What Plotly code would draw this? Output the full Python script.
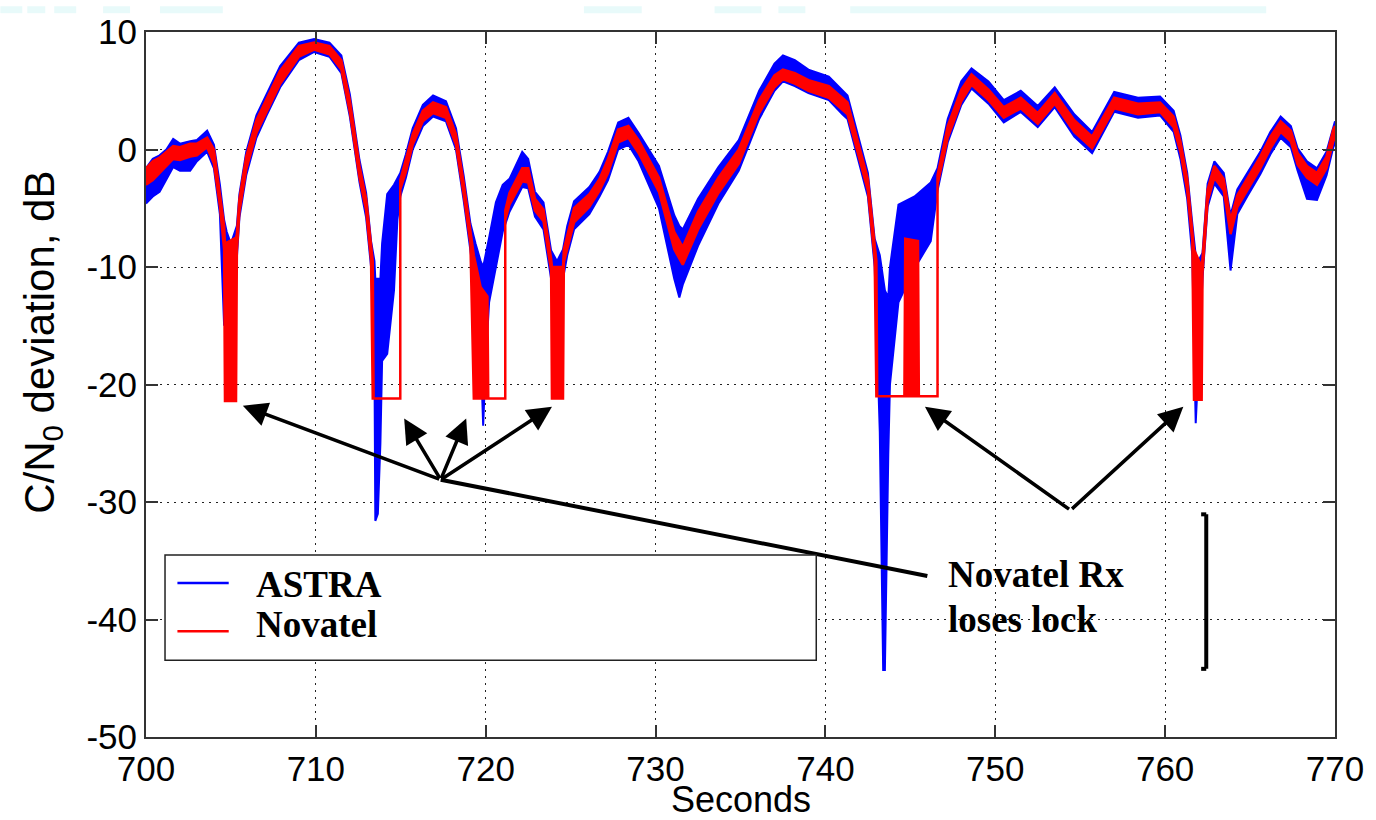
import plotly.graph_objects as go

# ---------------- data ----------------
astra_t = [700.0, 700.4, 700.8, 701.2, 701.6, 702.0, 702.6, 703.0, 703.6, 704.0,
           704.35, 704.6, 704.75, 705.0, 705.35, 705.5, 705.9, 706.5, 707.1, 707.9,
           709.0, 709.9, 710.8, 711.5, 712.0, 712.57, 712.96, 713.25, 713.45, 713.5,
           713.65, 713.8, 713.9, 714.2, 714.6, 714.8, 714.97, 715.3, 715.7, 716.3,
           716.9, 717.66, 718.25, 718.7, 719.1, 719.4, 719.7, 719.85, 720.0, 720.2,
           720.6, 721.0, 721.4, 722.15, 722.5, 722.9, 723.4, 723.85, 724.2, 724.55,
           724.8, 725.2, 726.1, 726.7, 727.2, 727.8, 728.4, 729.0, 730.2, 731.1,
           731.4, 731.6, 732.5, 733.7, 734.9, 736.1, 737.0, 737.5, 738.2, 739.0,
           740.2, 741.0, 741.3, 742.5, 742.9, 743.2, 743.4, 743.5, 743.7, 743.8,
           744.3, 745.25, 746.2, 746.6, 747.2, 748.0, 748.6, 749.6, 750.5, 751.5,
           752.5, 753.5, 754.65, 755.7, 757.0, 758.4, 759.7, 760.5, 760.9, 761.3,
           761.6, 761.8, 761.95, 762.2, 762.5, 762.9, 763.45, 763.85, 764.25, 764.83,
           765.6, 766.2, 766.8, 767.4, 767.8, 768.35, 768.94, 769.5, 769.9, 770.0]
astra_lo = [-4.6, -4.0, -3.6, -2.6, -1.5, -1.8, -1.8, -1.0, -0.2, -1.6,
            -5.5, -15.0, -12.0, -11.0, -9.2, -5.8, -2.2, 1.0, 2.9, 5.3,
            7.6, 8.3, 7.9, 6.5, 2.8, -2.8, -5.8, -10.0, -18.0, -31.6,
            -31.0, -25.0, -18.0, -17.4, -12.0, -6.0, -4.0, -2.4, 0.0, 2.0,
            2.8, 2.4, 0.0, -4.3, -8.6, -12.0, -17.0, -23.5, -18.0, -13.0,
            -10.0, -7.0, -5.3, -3.2, -3.3, -5.7, -6.8, -11.0, -13.0, -11.0,
            -9.0, -6.8, -5.5, -4.0, -2.6, 0.0, 0.4, -1.0, -5.0, -11.0,
            -12.6, -11.5, -8.2, -4.6, -1.8, 2.6, 5.0, 5.8, 5.4, 4.8,
            4.2, 3.0, 2.6, -4.0, -10.0, -24.0, -44.3, -44.3, -26.0, -20.0,
            -13.0, -10.1, -7.8, -3.5, 0.6, 3.8, 5.2, 3.9, 2.3, 3.2,
            1.9, 3.6, 1.1, -0.3, 3.2, 2.7, 2.9, 1.5, -0.8, -4.2,
            -9.0, -23.3, -18.0, -11.0, -4.9, -2.9, -4.0, -10.3, -5.5, -4.0,
            -2.1, -0.4, 1.0, 0.2, -1.8, -4.2, -4.3, -2.2, 0.2, 0.5]
astra_hi = [-1.6, -0.8, -0.5, 0.0, 0.9, 0.5, 0.7, 0.8, 1.6, 0.4,
            -3.0, -6.0, -7.0, -8.0, -6.5, -3.8, -0.2, 2.9, 4.7, 7.1,
            9.1, 9.4, 9.1, 8.0, 4.7, -0.9, -3.7, -7.8, -9.5, -11.0,
            -11.0, -11.0, -8.0, -3.8, -3.0, -2.5, -2.0, -0.4, 1.8, 3.8,
            4.6, 4.1, 1.8, -2.2, -6.3, -8.0, -9.5, -10.0, -9.0, -7.5,
            -4.5, -3.0, -2.5, -0.2, -0.8, -3.6, -4.5, -8.6, -9.5, -8.5,
            -6.5, -4.4, -3.2, -1.9, -0.2, 2.3, 2.7, 1.4, -1.4, -5.6,
            -6.5, -6.8, -4.2, -1.5, 0.8, 5.0, 7.3, 8.0, 7.6, 6.8,
            6.2, 5.0, 4.6, -2.0, -7.6, -9.0, -11.0, -12.0, -12.6, -10.0,
            -4.7, -4.0, -2.8, -1.6, 2.6, 5.8, 6.9, 5.8, 4.2, 5.0,
            3.7, 5.3, 3.0, 1.5, 4.9, 4.4, 4.5, 3.3, 1.2, -2.0,
            -6.3, -9.0, -9.5, -8.8, -2.9, -1.0, -2.0, -5.6, -3.4, -2.0,
            -0.2, 1.5, 2.8, 2.0, 0.1, -1.0, -1.6, -0.2, 2.0, 2.4]

nov_t = [700.0, 700.4, 700.8, 701.2, 701.6, 702.0, 702.6, 703.0, 703.6, 704.0,
         704.35, 704.6, 704.65, 705.3, 705.35, 705.5, 705.9, 706.5, 707.1, 707.9,
         709.0, 709.9, 710.8, 711.5, 712.0, 712.57, 712.96, 713.25, 713.35, 713.4,
         714.97, 714.97, 715.3, 715.7, 716.3, 716.9, 717.66, 718.25, 718.7, 719.1,
         719.3, 719.7, 720.1, 720.15, 721.15, 721.15, 721.4, 722.15, 722.5, 722.9,
         723.4, 723.85, 723.9, 724.55, 724.6, 725.2, 726.1, 726.7, 727.2, 727.8,
         728.4, 729.0, 730.2, 731.1, 731.6, 732.5, 733.7, 734.9, 736.1, 737.0,
         737.5, 738.2, 739.0, 740.2, 741.0, 741.3, 742.5, 742.9, 743.0, 743.05,
         744.65, 744.7, 745.45, 745.5, 746.6, 746.6, 747.2, 748.0, 748.6, 749.6,
         750.5, 751.5, 752.5, 753.5, 754.65, 755.7, 757.0, 758.4, 759.7, 760.5,
         760.9, 761.3, 761.6, 761.7, 762.15, 762.2, 762.5, 762.9, 763.45, 763.85,
         764.25, 764.83, 765.6, 766.2, 766.8, 767.4, 767.8, 768.35, 768.94, 769.5,
         769.9, 770.0]
nov_lo = [-3.0, -2.6, -2.0, -1.4, -0.8, -0.9, -0.6, -0.5, 0.2, -1.2,
          -4.8, -8.5, -21.4, -21.4, -8.6, -5.3, -1.7, 1.4, 3.2, 5.6,
          7.9, 8.5, 8.1, 6.8, 3.2, -2.4, -5.2, -9.4, -21.2, -21.2,
          -21.2, -3.4, -1.9, 0.4, 2.4, 3.1, 2.7, 0.4, -3.8, -8.0,
          -21.2, -21.2, -21.2, -21.2, -21.2, -6.0, -4.7, -2.7, -2.8, -5.2,
          -6.1, -10.3, -21.2, -21.2, -9.6, -6.2, -4.9, -3.5, -2.0, 0.6,
          1.0, -0.3, -3.6, -8.5, -9.8, -6.8, -3.7, -1.2, 3.1, 5.3,
          6.0, 5.6, 5.0, 4.4, 3.4, 3.0, -3.5, -9.3, -21.0, -21.0,
          -21.0, -21.0, -21.0, -21.0, -21.0, -3.0, 1.0, 4.1, 5.5, 4.2,
          2.7, 3.5, 2.2, 3.9, 1.5, 0.1, 3.5, 3.0, 3.2, 1.9,
          -0.2, -3.5, -7.8, -21.3, -21.3, -10.5, -4.4, -2.4, -3.5, -7.2,
          -4.9, -3.5, -1.6, 0.1, 1.5, 0.7, -1.3, -2.4, -3.0, -1.6,
          0.7, 1.0]
nov_hi = [-1.6, -1.0, -0.7, -0.2, 0.3, 0.2, 0.5, 0.5, 1.0, 0.0,
          -3.6, -6.5, -8.0, -7.5, -7.2, -4.2, -0.6, 2.5, 4.3, 6.7,
          8.8, 9.1, 8.8, 7.6, 4.2, -1.4, -4.2, -8.4, -9.5, -21.2,
          -21.2, -2.6, -0.9, 1.3, 3.3, 4.0, 3.6, 1.3, -2.8, -7.0,
          -9.0, -11.7, -12.5, -21.2, -21.2, -5.2, -3.7, -1.6, -1.6, -4.2,
          -5.1, -9.3, -10.0, -10.0, -8.5, -5.0, -3.8, -2.5, -0.8, 1.7,
          2.0, 0.8, -2.4, -7.0, -8.3, -5.3, -2.4, 0.0, 4.2, 6.3,
          6.8, 6.5, 5.9, 5.4, 4.4, 4.0, -2.5, -8.2, -9.5, -21.0,
          -21.0, -7.6, -7.8, -21.0, -21.0, -2.2, 2.0, 5.1, 6.4, 5.1,
          3.6, 4.4, 3.1, 4.8, 2.5, 1.1, 4.4, 3.9, 4.0, 2.8,
          0.7, -2.5, -6.8, -8.5, -10.0, -9.3, -3.4, -1.4, -2.5, -6.0,
          -3.9, -2.5, -0.6, 1.1, 2.4, 1.6, -0.3, -1.4, -2.0, -0.6,
          1.7, 2.0]

x_ticks = [700, 710, 720, 730, 740, 750, 760, 770]
x_tick_text = ["700", "710", "720", "730", "740", "750", "760", "770"]
y_ticks = [-50, -40, -30, -20, -10, 0, 10]
y_tick_text = ["-50", "-40", "-30", "-20", "-10", "0", "10"]
series_names = ["ASTRA", "Novatel"]
series_colors = ["#0000ff", "#ff0000"]
note_lines = ["Novatel Rx", "loses lock"]

# ---------------- figure ----------------
fig = go.Figure()


def band(t, lo, hi, color, name, width):
    xs = list(t) + list(t)[::-1]
    ys = list(hi) + list(lo)[::-1]
    fig.add_trace(go.Scatter(x=xs, y=ys, mode="lines", fill="toself",
                             fillcolor=color, line=dict(color=color, width=width),
                             name=name, showlegend=False, hoverinfo="skip"))


band(astra_t, astra_lo, astra_hi, series_colors[0], series_names[0], 2)
band(nov_t, nov_lo, nov_hi, series_colors[1], series_names[1], 2.5)

axis_common = dict(
    showgrid=True, gridcolor="#222222", gridwidth=1, griddash="2px,5px",
    showline=True, linecolor="#333333", linewidth=2, mirror="ticks",
    ticks="inside", ticklen=12, tickwidth=1.5, tickcolor="#333333",
    tickfont=dict(family="Liberation Sans, Arial", size=35, color="black"),
    zeroline=False,
)
fig.update_xaxes(range=[700, 770], tickvals=x_ticks, ticktext=x_tick_text, **axis_common)
fig.update_yaxes(range=[-50, 10], tickvals=y_ticks, ticktext=y_tick_text, **axis_common)

serif = dict(family="Liberation Serif, Times New Roman", size=37, color="black")
sans_x = dict(family="Liberation Sans, Arial", size=36, color="black")
sans_y = dict(family="Liberation Sans, Arial", size=42, color="black")

ann = []
# axis titles
ann.append(dict(text="Seconds", xref="paper", yref="paper", x=0.5, y=-0.089,
                showarrow=False, font=sans_x, xanchor="center", yanchor="middle",
                borderpad=0))
ann.append(dict(text="C/N<sub>0</sub> deviation, dB", xref="paper", yref="paper",
                x=-0.087, y=0.56, textangle=-90, showarrow=False, font=sans_y,
                xanchor="center", yanchor="middle"))

# arrows (tip, tail) in data units
hub1 = (717.35, -28.1)
hub2 = (754.43, -30.7)
tips1 = [(705.7, -21.8), (715.2, -22.9), (718.85, -22.9), (723.9, -21.9)]
tips2 = [(745.86, -21.9), (761.07, -21.9)]
for tip in tips1 + tips2:
    hub = hub1 if tip in tips1 else hub2
    ann.append(dict(x=tip[0], y=tip[1], ax=hub[0], ay=hub[1], xref="x", yref="y",
                    axref="x", ayref="y", text="", showarrow=True, arrowhead=2,
                    arrowsize=1.4, arrowwidth=3.5, arrowcolor="black", standoff=0))

# note text
ann.append(dict(text="<b>%s</b>" % note_lines[0], x=747.1, y=-36.2, xref="x", yref="y",
                showarrow=False, font=serif, xanchor="left", yanchor="middle"))
ann.append(dict(text="<b>%s</b>" % note_lines[1], x=747.1, y=-40.0, xref="x", yref="y",
                showarrow=False, font=serif, xanchor="left", yanchor="middle"))

# legend text
ann.append(dict(text="<b>%s</b>" % series_names[0], x=706.34, y=-37.0, xref="x", yref="y",
                showarrow=False, font=serif, xanchor="left", yanchor="middle"))
ann.append(dict(text="<b>%s</b>" % series_names[1], x=706.34, y=-40.4, xref="x", yref="y",
                showarrow=False, font=serif, xanchor="left", yanchor="middle"))

shapes = []
# line from hub to note
shapes.append(dict(type="line", xref="x", yref="y", x0=hub1[0], y0=hub1[1],
                   x1=746.0, y1=-36.3, line=dict(color="black", width=4)))
# bracket
shapes.append(dict(type="line", xref="x", yref="y", x0=762.42, y0=-31.05,
                   x1=762.42, y1=-44.2, line=dict(color="black", width=4)))
shapes.append(dict(type="line", xref="x", yref="y", x0=762.12, y0=-31.05,
                   x1=762.42, y1=-31.05, line=dict(color="black", width=4)))
shapes.append(dict(type="line", xref="x", yref="y", x0=762.12, y0=-44.2,
                   x1=762.42, y1=-44.2, line=dict(color="black", width=4)))
# legend box
shapes.append(dict(type="rect", xref="x", yref="y", x0=701.12, x1=739.46,
                   y0=-34.5, y1=-43.46, fillcolor="white",
                   line=dict(color="#222222", width=1.5), layer="above"))
shapes.append(dict(type="line", xref="x", yref="y", x0=701.85, x1=704.87,
                   y0=-36.9, y1=-36.9, line=dict(color=series_colors[0], width=2.5)))
shapes.append(dict(type="line", xref="x", yref="y", x0=701.85, x1=704.87,
                   y0=-41.0, y1=-41.0, line=dict(color=series_colors[1], width=2.5)))

# faint watermark fragments at the very top
for a, b in [(0, 22), (27, 45), (54, 76), (103, 130), (160, 223), (585, 643),
             (716, 763), (780, 807), (852, 1269)]:
    shapes.append(dict(type="rect", xref="paper", yref="paper",
                       x0=(a - 146) / 1192, x1=(b - 146) / 1192,
                       y0=(737 - 6) / 712, y1=(737 + 1) / 712,
                       fillcolor="#e8fafa", line=dict(width=0), layer="below"))

fig.update_layout(
    width=1376, height=820,
    margin=dict(l=146, r=38, t=25, b=83),
    paper_bgcolor="white", plot_bgcolor="white",
    showlegend=False,
    annotations=ann, shapes=shapes,
)

fig.write_html("out.html")
